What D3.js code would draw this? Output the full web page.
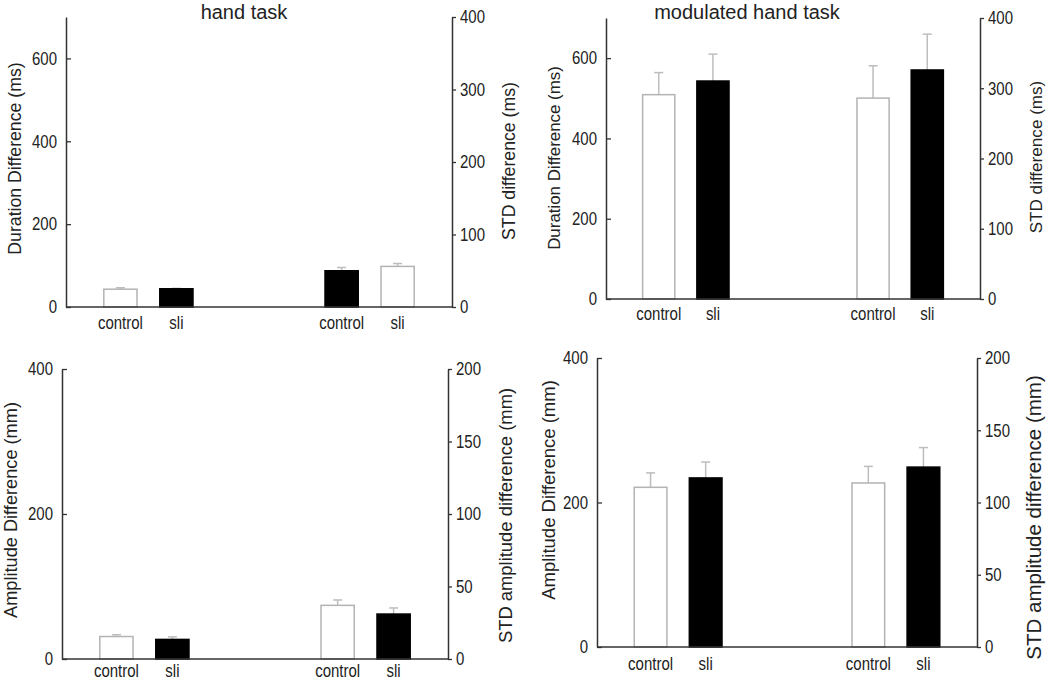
<!DOCTYPE html>
<html>
<head>
<meta charset="utf-8">
<script src="https://cdn.jsdelivr.net/npm/d3@7"></script>
<style>
  body { margin: 0; background: #fff; }
  svg text { font-family: "Liberation Sans", Arial, sans-serif; fill: #222; }
</style>
</head>
<body>
<div id="chart"></div>
<script>
// ---- data ----
var categories = ["control", "sli"];

// duration, hand task (group 1 on ms axis, group 2 on STD axis)
var durHandMean = [43, 44];
var durHandErr = [3.5, 1];
var durHandStd = [50, 56];
var durHandStdErr = [4.5, 4];

// duration, modulated hand task
var durModMean = [509, 543];
var durModErr = [55, 67];
var durModStd = [286, 326];
var durModStdErr = [46, 51];

// amplitude, hand task
var ampHandMean = [31, 27];
var ampHandErr = [2.5, 3.5];
var ampHandStd = [37, 31];
var ampHandStdErr = [3.7, 4.2];

// amplitude, modulated hand task
var ampModMean = [221, 234];
var ampModErr = [20, 22];
var ampModStd = [113.5, 124.5];
var ampModStdErr = [11.5, 13.5];

// tick labels
var durTicks = [0, 200, 400, 600];
var durStdTicks = [0, 100, 200, 300, 400];
var ampTicks = [0, 200, 400];
var ampStdTicks = [0, 50, 100, 150, 200];

// tick and category text in the source is a bit taller than wide
var SY = 1.2;

var svg = d3.select("#chart").append("svg")
  .attr("width", 1050)
  .attr("height", 680);

var panels = [
  { x0: 66, x1: 452, y0: 17, y1: 307, catDy: 22,
    title: "hand task", titleX: 244, titleY: 18.5,
    leftDomain: [0, 700], leftTicks: durTicks, rightDomain: [0, 400], rightTicks: durStdTicks,
    mean: durHandMean, err: durHandErr, std: durHandStd, stdErr: durHandStdErr,
    fills: [["#fff", "#000"], ["#000", "#fff"]],
    leftLabel: "Duration Difference (ms)", lx: 20.5, ly: 158.5, lfs: 17.7,
    rightLabel: "STD difference (ms)", rx: 515, ry: 161, rfs: 17.7 },
  { x0: 606, x1: 980, y0: 18, y1: 299, catDy: 21,
    title: "modulated hand task", titleX: 747, titleY: 18.5,
    leftDomain: [0, 700], leftTicks: durTicks, rightDomain: [0, 400], rightTicks: durStdTicks,
    mean: durModMean, err: durModErr, std: durModStd, stdErr: durModStdErr,
    fills: [["#fff", "#000"], ["#fff", "#000"]],
    leftLabel: "Duration Difference (ms)", lx: 560, ly: 158, lfs: 16.9,
    rightLabel: "STD difference (ms)", rx: 1042, ry: 157, rfs: 17.1 },
  { x0: 62, x1: 448, y0: 369, y1: 659, catDy: 18,
    leftDomain: [0, 400], leftTicks: ampTicks, rightDomain: [0, 200], rightTicks: ampStdTicks,
    mean: ampHandMean, err: ampHandErr, std: ampHandStd, stdErr: ampHandStdErr,
    fills: [["#fff", "#000"], ["#fff", "#000"]],
    leftLabel: "Amplitude Difference (mm)", lx: 17, ly: 510, lfs: 18.2,
    rightLabel: "STD amplitude difference (mm)", rx: 512, ry: 515.5, rfs: 18.4 },
  { x0: 597, x1: 977, y0: 358, y1: 647, catDy: 23,
    leftDomain: [0, 400], leftTicks: ampTicks, rightDomain: [0, 200], rightTicks: ampStdTicks,
    mean: ampModMean, err: ampModErr, std: ampModStd, stdErr: ampModStdErr,
    fills: [["#fff", "#000"], ["#fff", "#000"]],
    leftLabel: "Amplitude Difference (mm)", lx: 555, ly: 490, lfs: 18.5,
    rightLabel: "STD amplitude difference (mm)", rx: 1041, ry: 517.5, rfs: 20.5 }
];

panels.forEach(drawPanel);

function drawPanel(p) {
  var w = p.x1 - p.x0;
  var h = p.y1 - p.y0;
  var g = svg.append("g").attr("transform", `translate(${p.x0},${p.y0})`);

  var yLeft = d3.scaleLinear().domain(p.leftDomain).range([h, 0]);
  var yRight = d3.scaleLinear().domain(p.rightDomain).range([h, 0]);

  // two groups of bars, control / sli inside each
  var xGroup = d3.scalePoint().domain([0, 1]).range([0, w]).padding(0.3725);
  var xCat = d3.scalePoint().domain(categories).range([-0.0725 * w, 0.0725 * w]);
  var barW = 0.086 * w;

  var rows = [];
  categories.forEach(function(c, i) {
    rows.push({ grp: 0, cat: c, v: p.mean[i], e: p.err[i], fill: p.fills[0][i], y: yLeft });
  });
  categories.forEach(function(c, i) {
    rows.push({ grp: 1, cat: c, v: p.std[i], e: p.stdErr[i], fill: p.fills[1][i], y: yRight });
  });
  rows.forEach(function(d) { d.cx = xGroup(d.grp) + xCat(d.cat); });

  // error bars (upper half only)
  var errG = g.append("g")
    .attr("stroke", "#bdbdbd")
    .attr("stroke-width", 1.5);
  errG.selectAll(".stem")
    .data(rows)
    .enter()
    .append("line")
    .attr("x1", d => d.cx)
    .attr("x2", d => d.cx)
    .attr("y1", d => d.y(d.v))
    .attr("y2", d => d.y(d.v + d.e));
  errG.selectAll(".cap")
    .data(rows)
    .enter()
    .append("line")
    .attr("x1", d => d.cx - 4.5)
    .attr("x2", d => d.cx + 4.5)
    .attr("y1", d => d.y(d.v + d.e))
    .attr("y2", d => d.y(d.v + d.e));

  // bars
  g.selectAll(".bar")
    .data(rows)
    .enter()
    .append("rect")
    .attr("x", d => d.cx - barW / 2)
    .attr("y", d => d.y(d.v))
    .attr("width", barW)
    .attr("height", d => h - d.y(d.v))
    .attr("fill", d => d.fill)
    .attr("stroke", d => d.fill === "#000" ? "#000" : "#b3b3b3")
    .attr("stroke-width", 1.5);

  // axes
  var leftAxis = d3.axisLeft(yLeft)
    .tickValues(p.leftTicks)
    .tickFormat(d3.format("d"))
    .tickSizeInner(-5)
    .tickSizeOuter(0)
    .tickPadding(9);
  var rightAxis = d3.axisRight(yRight)
    .tickValues(p.rightTicks)
    .tickFormat(d3.format("d"))
    .tickSizeInner(4)
    .tickSizeOuter(0)
    .tickPadding(4);

  var la = g.append("g").call(leftAxis);
  var ra = g.append("g").attr("transform", `translate(${w},0)`).call(rightAxis);
  [la, ra].forEach(function(a) {
    a.attr("font-size", 15).attr("font-family", null);
    a.select(".domain").attr("stroke", "#333").attr("stroke-width", 1.5);
    a.selectAll(".tick line").attr("stroke", "#333").attr("stroke-width", 1.3);
    a.selectAll(".tick text")
      .attr("fill", "#222")
      .attr("transform", `scale(1,${SY})`);
  });

  g.append("line")
    .attr("x1", 0)
    .attr("x2", w)
    .attr("y1", h)
    .attr("y2", h)
    .attr("stroke", "#333")
    .attr("stroke-width", 1.5);

  // category labels under each bar
  g.selectAll(".catlabel")
    .data(rows)
    .enter()
    .append("text")
    .attr("transform", d => `translate(${d.cx},${h + p.catDy}) scale(1,${SY})`)
    .attr("text-anchor", "middle")
    .attr("font-size", 15)
    .text(d => d.cat);

  // axis titles
  svg.append("text")
    .attr("transform", `translate(${p.lx},${p.ly}) rotate(-90)`)
    .attr("text-anchor", "middle")
    .attr("font-size", p.lfs)
    .text(p.leftLabel);
  svg.append("text")
    .attr("transform", `translate(${p.rx},${p.ry}) rotate(-90)`)
    .attr("text-anchor", "middle")
    .attr("font-size", p.rfs)
    .text(p.rightLabel);

  if (p.title) {
    svg.append("text")
      .attr("x", p.titleX)
      .attr("y", p.titleY)
      .attr("text-anchor", "middle")
      .attr("font-size", 20)
      .text(p.title);
  }
}
</script>
</body>
</html>
